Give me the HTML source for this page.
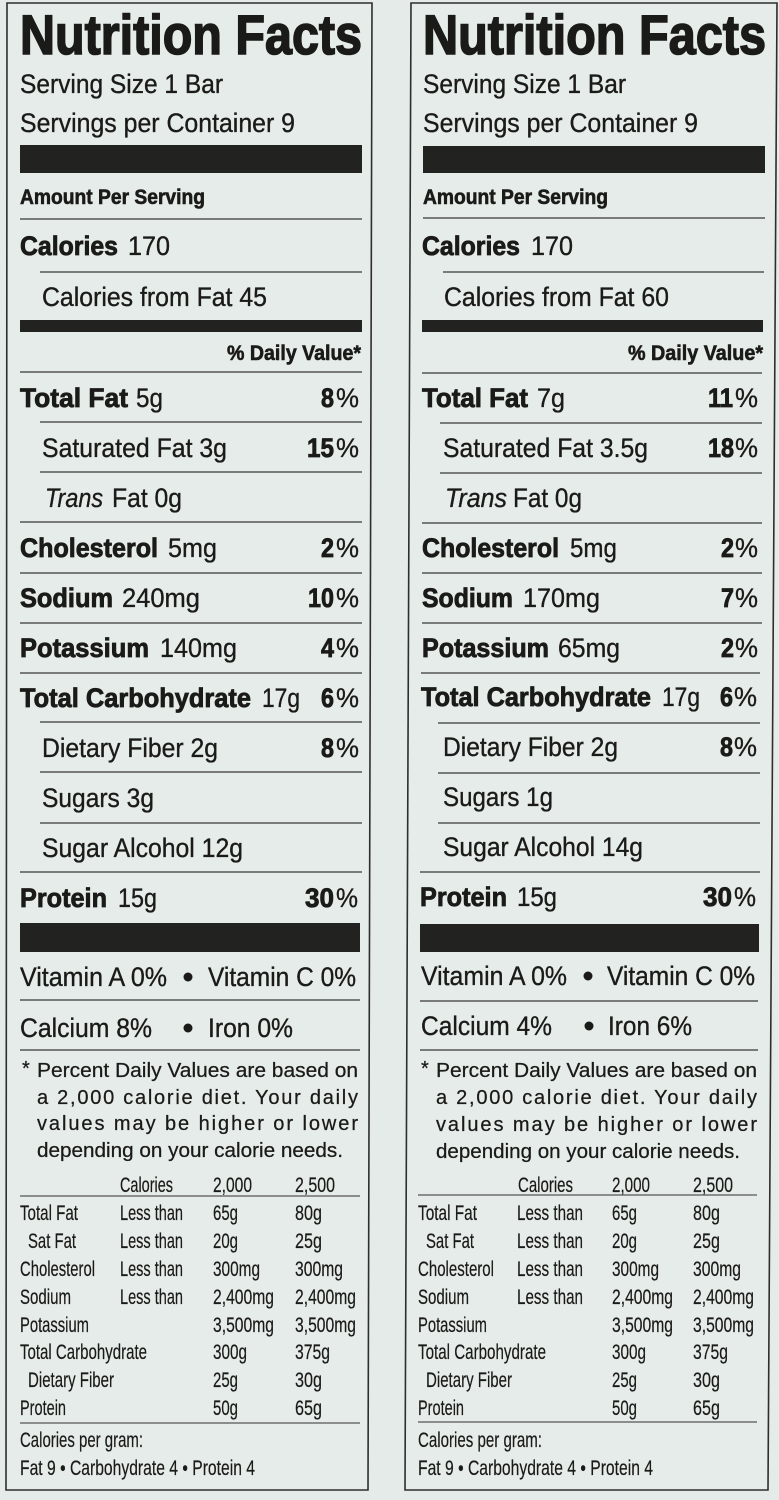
<!DOCTYPE html>
<html><head><meta charset="utf-8"><style>
html,body{margin:0;padding:0;background:#e5ebe8;}
svg{display:block;}
text{font-family:"Liberation Sans",Arial,sans-serif;fill:#1a1a18;}
.b{font-weight:bold;}
.t{font-weight:bold;font-size:56px;stroke:#1a1a18;stroke-width:1.6px;}
.m{font-size:27px;stroke:#1a1a18;stroke-width:0.35px;}
.mb{font-size:27px;font-weight:bold;stroke:#1a1a18;stroke-width:0.8px;}
.s{font-size:21px;font-weight:bold;stroke:#1a1a18;stroke-width:0.6px;}
.f{font-size:20px;stroke:#1a1a18;stroke-width:0.25px;}
.k{font-size:21px;stroke:#1a1a18;stroke-width:0.2px;}
.i{font-style:italic;}
</style></head><body>
<svg width="779" height="1500" viewBox="0 0 779 1500" xmlns="http://www.w3.org/2000/svg">
<rect x="0" y="0" width="779" height="1500" fill="#e5ebe8"/>
<polygon points="7,3 372,3 368,1490 6,1490" fill="#e6ece9" stroke="#2e2e2c" stroke-width="1.6"/>
<polygon points="411,3 777,3 768,1490 405,1490" fill="#e6ece9" stroke="#2e2e2c" stroke-width="1.6"/>

<g>
<!-- LEFT PANEL -->
<text class="t" x="20" y="54" textLength="342" lengthAdjust="spacingAndGlyphs">Nutrition Facts</text>
<text class="m" x="20" y="93" textLength="203" lengthAdjust="spacingAndGlyphs">Serving Size 1 Bar</text>
<text class="m" x="20" y="132" textLength="275" lengthAdjust="spacingAndGlyphs">Servings per Container 9</text>
<rect x="20" y="145" width="342" height="28" fill="#222220"/>
<text class="s" x="20" y="204" textLength="185" lengthAdjust="spacingAndGlyphs">Amount Per Serving</text>
<line x1="20" y1="219" x2="362" y2="219" stroke="#555" stroke-width="1.5"/>
<text class="mb" x="20" y="255" textLength="98" lengthAdjust="spacingAndGlyphs">Calories</text>
<text class="m" x="128" y="255" textLength="42" lengthAdjust="spacingAndGlyphs">170</text>
<line x1="40" y1="272" x2="362" y2="272" stroke="#555" stroke-width="1.5"/>
<text class="m" x="42" y="306" textLength="225" lengthAdjust="spacingAndGlyphs">Calories from Fat 45</text>
<rect x="20" y="320" width="342" height="12" fill="#222220"/>
<text class="s" x="227" y="360" textLength="134" lengthAdjust="spacingAndGlyphs">% Daily Value*</text>
<line x1="20" y1="372" x2="362" y2="372" stroke="#555" stroke-width="1.5"/>

<text class="mb" x="20" y="407" textLength="108" lengthAdjust="spacingAndGlyphs">Total Fat</text>
<text class="m" x="136" y="407" textLength="27" lengthAdjust="spacingAndGlyphs">5g</text>
<text class="mb" x="321" y="407" textLength="13" lengthAdjust="spacingAndGlyphs">8</text>
<text class="m" x="336" y="407" textLength="23" lengthAdjust="spacingAndGlyphs">%</text>
<line x1="40" y1="422" x2="362" y2="422" stroke="#555" stroke-width="1.5"/>

<text class="m" x="42" y="457" textLength="185" lengthAdjust="spacingAndGlyphs">Saturated Fat 3g</text>
<text class="mb" x="307" y="457" textLength="27" lengthAdjust="spacingAndGlyphs">15</text>
<text class="m" x="336" y="457" textLength="23" lengthAdjust="spacingAndGlyphs">%</text>
<line x1="40" y1="472" x2="362" y2="472" stroke="#555" stroke-width="1.5"/>

<text class="m i" x="45" y="507" textLength="58" lengthAdjust="spacingAndGlyphs">Trans</text>
<text class="m" x="112" y="507" textLength="70" lengthAdjust="spacingAndGlyphs">Fat 0g</text>
<line x1="20" y1="522" x2="362" y2="522" stroke="#555" stroke-width="1.5"/>

<text class="mb" x="20" y="557" textLength="138" lengthAdjust="spacingAndGlyphs">Cholesterol</text>
<text class="m" x="168" y="557" textLength="49" lengthAdjust="spacingAndGlyphs">5mg</text>
<text class="mb" x="321" y="557" textLength="13" lengthAdjust="spacingAndGlyphs">2</text>
<text class="m" x="336" y="557" textLength="23" lengthAdjust="spacingAndGlyphs">%</text>
<line x1="20" y1="573" x2="362" y2="573" stroke="#555" stroke-width="1.5"/>

<text class="mb" x="20" y="607" textLength="93" lengthAdjust="spacingAndGlyphs">Sodium</text>
<text class="m" x="122" y="607" textLength="78" lengthAdjust="spacingAndGlyphs">240mg</text>
<text class="mb" x="308" y="607" textLength="26" lengthAdjust="spacingAndGlyphs">10</text>
<text class="m" x="336" y="607" textLength="23" lengthAdjust="spacingAndGlyphs">%</text>
<line x1="20" y1="623" x2="362" y2="623" stroke="#555" stroke-width="1.5"/>

<text class="mb" x="20" y="657" textLength="129" lengthAdjust="spacingAndGlyphs">Potassium</text>
<text class="m" x="160" y="657" textLength="77" lengthAdjust="spacingAndGlyphs">140mg</text>
<text class="mb" x="321" y="657" textLength="13" lengthAdjust="spacingAndGlyphs">4</text>
<text class="m" x="336" y="657" textLength="23" lengthAdjust="spacingAndGlyphs">%</text>
<line x1="20" y1="673" x2="362" y2="673" stroke="#555" stroke-width="1.5"/>

<text class="mb" x="20" y="707" textLength="231" lengthAdjust="spacingAndGlyphs">Total Carbohydrate</text>
<text class="m" x="262" y="707" textLength="38" lengthAdjust="spacingAndGlyphs">17g</text>
<text class="mb" x="321" y="707" textLength="13" lengthAdjust="spacingAndGlyphs">6</text>
<text class="m" x="336" y="707" textLength="23" lengthAdjust="spacingAndGlyphs">%</text>
<line x1="40" y1="722" x2="362" y2="722" stroke="#555" stroke-width="1.5"/>

<text class="m" x="42" y="757" textLength="176" lengthAdjust="spacingAndGlyphs">Dietary Fiber 2g</text>
<text class="mb" x="321" y="757" textLength="13" lengthAdjust="spacingAndGlyphs">8</text>
<text class="m" x="336" y="757" textLength="23" lengthAdjust="spacingAndGlyphs">%</text>
<line x1="40" y1="772" x2="362" y2="772" stroke="#555" stroke-width="1.5"/>

<text class="m" x="42" y="807" textLength="112" lengthAdjust="spacingAndGlyphs">Sugars 3g</text>
<line x1="40" y1="823" x2="362" y2="823" stroke="#555" stroke-width="1.5"/>

<text class="m" x="42" y="857" textLength="201" lengthAdjust="spacingAndGlyphs">Sugar Alcohol 12g</text>
<line x1="20" y1="872" x2="362" y2="872" stroke="#555" stroke-width="1.5"/>

<text class="mb" x="20" y="907" textLength="87" lengthAdjust="spacingAndGlyphs">Protein</text>
<text class="m" x="118" y="907" textLength="39" lengthAdjust="spacingAndGlyphs">15g</text>
<text class="mb" x="305" y="907" textLength="29" lengthAdjust="spacingAndGlyphs">30</text>
<text class="m" x="336" y="907" textLength="22" lengthAdjust="spacingAndGlyphs">%</text>

<rect x="20" y="923" width="340" height="29" fill="#222220"/>
<text class="m" x="20" y="986" textLength="147" lengthAdjust="spacingAndGlyphs">Vitamin A 0%</text>
<circle cx="188" cy="977" r="4.5" fill="#1a1a18"/>
<text class="m" x="208" y="986" textLength="148" lengthAdjust="spacingAndGlyphs">Vitamin C 0%</text>
<line x1="20" y1="1000" x2="360" y2="1000" stroke="#555" stroke-width="1.5"/>
<text class="m" x="20" y="1037" textLength="132" lengthAdjust="spacingAndGlyphs">Calcium 8%</text>
<circle cx="188" cy="1028" r="4.5" fill="#1a1a18"/>
<text class="m" x="208" y="1037" textLength="85" lengthAdjust="spacingAndGlyphs">Iron 0%</text>
<line x1="20" y1="1050" x2="360" y2="1050" stroke="#555" stroke-width="1.5"/>

<text class="f" x="22" y="1075" font-size="16">*</text>
<text class="f" x="37" y="1077" textLength="321" lengthAdjust="spacingAndGlyphs">Percent Daily Values are based on</text>
<text class="f" x="37" y="1104" textLength="321" lengthAdjust="spacing">a 2,000 calorie diet. Your daily</text>
<text class="f" x="37" y="1130" textLength="321" lengthAdjust="spacing">values may be higher or lower</text>
<text class="f" x="37" y="1157" textLength="306" lengthAdjust="spacingAndGlyphs">depending on your calorie needs.</text>

<text class="k" x="120" y="1192" textLength="53" lengthAdjust="spacingAndGlyphs">Calories</text>
<text class="k" x="213" y="1192" textLength="39" lengthAdjust="spacingAndGlyphs">2,000</text>
<text class="k" x="295" y="1192" textLength="40" lengthAdjust="spacingAndGlyphs">2,500</text>
<line x1="20" y1="1196" x2="360" y2="1196" stroke="#555" stroke-width="1.3"/>

<text class="k" x="20" y="1220" textLength="58" lengthAdjust="spacingAndGlyphs">Total Fat</text>
<text class="k" x="120" y="1220" textLength="63" lengthAdjust="spacingAndGlyphs">Less than</text>
<text class="k" x="213" y="1220" textLength="25" lengthAdjust="spacingAndGlyphs">65g</text>
<text class="k" x="295" y="1220" textLength="27" lengthAdjust="spacingAndGlyphs">80g</text>

<text class="k" x="28" y="1248" textLength="48" lengthAdjust="spacingAndGlyphs">Sat Fat</text>
<text class="k" x="120" y="1248" textLength="63" lengthAdjust="spacingAndGlyphs">Less than</text>
<text class="k" x="213" y="1248" textLength="25" lengthAdjust="spacingAndGlyphs">20g</text>
<text class="k" x="295" y="1248" textLength="27" lengthAdjust="spacingAndGlyphs">25g</text>

<text class="k" x="20" y="1276" textLength="75" lengthAdjust="spacingAndGlyphs">Cholesterol</text>
<text class="k" x="120" y="1276" textLength="63" lengthAdjust="spacingAndGlyphs">Less than</text>
<text class="k" x="213" y="1276" textLength="47" lengthAdjust="spacingAndGlyphs">300mg</text>
<text class="k" x="295" y="1276" textLength="48" lengthAdjust="spacingAndGlyphs">300mg</text>

<text class="k" x="20" y="1304" textLength="51" lengthAdjust="spacingAndGlyphs">Sodium</text>
<text class="k" x="120" y="1304" textLength="63" lengthAdjust="spacingAndGlyphs">Less than</text>
<text class="k" x="213" y="1304" textLength="61" lengthAdjust="spacingAndGlyphs">2,400mg</text>
<text class="k" x="295" y="1304" textLength="61" lengthAdjust="spacingAndGlyphs">2,400mg</text>

<text class="k" x="20" y="1332" textLength="69" lengthAdjust="spacingAndGlyphs">Potassium</text>
<text class="k" x="213" y="1332" textLength="61" lengthAdjust="spacingAndGlyphs">3,500mg</text>
<text class="k" x="295" y="1332" textLength="61" lengthAdjust="spacingAndGlyphs">3,500mg</text>

<text class="k" x="20" y="1359" textLength="127" lengthAdjust="spacingAndGlyphs">Total Carbohydrate</text>
<text class="k" x="213" y="1359" textLength="34" lengthAdjust="spacingAndGlyphs">300g</text>
<text class="k" x="295" y="1359" textLength="35" lengthAdjust="spacingAndGlyphs">375g</text>

<text class="k" x="28" y="1387" textLength="86" lengthAdjust="spacingAndGlyphs">Dietary Fiber</text>
<text class="k" x="213" y="1387" textLength="25" lengthAdjust="spacingAndGlyphs">25g</text>
<text class="k" x="295" y="1387" textLength="27" lengthAdjust="spacingAndGlyphs">30g</text>

<text class="k" x="20" y="1415" textLength="46" lengthAdjust="spacingAndGlyphs">Protein</text>
<text class="k" x="213" y="1415" textLength="25" lengthAdjust="spacingAndGlyphs">50g</text>
<text class="k" x="295" y="1415" textLength="27" lengthAdjust="spacingAndGlyphs">65g</text>
<line x1="20" y1="1423" x2="360" y2="1423" stroke="#555" stroke-width="1.3"/>

<text class="k" x="20" y="1447" textLength="123" lengthAdjust="spacingAndGlyphs">Calories per gram:</text>
<text class="k" x="20" y="1475" textLength="235" lengthAdjust="spacingAndGlyphs">Fat 9 • Carbohydrate 4 • Protein 4</text>

<!-- RIGHT PANEL -->
<text class="t" x="423" y="54" textLength="343" lengthAdjust="spacingAndGlyphs">Nutrition Facts</text>
<text class="m" x="423" y="93" textLength="203" lengthAdjust="spacingAndGlyphs">Serving Size 1 Bar</text>
<text class="m" x="423" y="132" textLength="275" lengthAdjust="spacingAndGlyphs">Servings per Container 9</text>
<rect x="423" y="146" width="342" height="27" fill="#222220"/>
<text class="s" x="423" y="204" textLength="185" lengthAdjust="spacingAndGlyphs">Amount Per Serving</text>
<line x1="423" y1="218" x2="765" y2="218" stroke="#555" stroke-width="1.5"/>
<text class="mb" x="422" y="255" textLength="98" lengthAdjust="spacingAndGlyphs">Calories</text>
<text class="m" x="531" y="255" textLength="42" lengthAdjust="spacingAndGlyphs">170</text>
<line x1="443" y1="272" x2="764" y2="272" stroke="#555" stroke-width="1.5"/>
<text class="m" x="444" y="306" textLength="225" lengthAdjust="spacingAndGlyphs">Calories from Fat 60</text>
<rect x="422" y="320" width="341" height="12" fill="#222220"/>
<text class="s" x="628" y="360" textLength="135" lengthAdjust="spacingAndGlyphs">% Daily Value*</text>
<line x1="422" y1="373" x2="762" y2="373" stroke="#555" stroke-width="1.5"/>

<text class="mb" x="422" y="407" textLength="106" lengthAdjust="spacingAndGlyphs">Total Fat</text>
<text class="m" x="537" y="407" textLength="28" lengthAdjust="spacingAndGlyphs">7g</text>
<text class="mb" x="708" y="407" textLength="25" lengthAdjust="spacingAndGlyphs">11</text>
<text class="m" x="735" y="407" textLength="23" lengthAdjust="spacingAndGlyphs">%</text>
<line x1="440" y1="423" x2="762" y2="423" stroke="#555" stroke-width="1.5"/>

<text class="m" x="443" y="457" textLength="205" lengthAdjust="spacingAndGlyphs">Saturated Fat 3.5g</text>
<text class="mb" x="708" y="457" textLength="26" lengthAdjust="spacingAndGlyphs">18</text>
<text class="m" x="735" y="457" textLength="23" lengthAdjust="spacingAndGlyphs">%</text>
<line x1="440" y1="473" x2="762" y2="473" stroke="#555" stroke-width="1.5"/>

<text class="m i" x="445" y="507" textLength="62" lengthAdjust="spacingAndGlyphs">Trans</text>
<text class="m" x="513" y="507" textLength="69" lengthAdjust="spacingAndGlyphs">Fat 0g</text>
<line x1="422" y1="523" x2="762" y2="523" stroke="#555" stroke-width="1.5"/>

<text class="mb" x="422" y="557" textLength="137" lengthAdjust="spacingAndGlyphs">Cholesterol</text>
<text class="m" x="570" y="557" textLength="47" lengthAdjust="spacingAndGlyphs">5mg</text>
<text class="mb" x="721" y="557" textLength="13" lengthAdjust="spacingAndGlyphs">2</text>
<text class="m" x="735" y="557" textLength="23" lengthAdjust="spacingAndGlyphs">%</text>
<line x1="422" y1="573" x2="762" y2="573" stroke="#555" stroke-width="1.5"/>

<text class="mb" x="422" y="607" textLength="91" lengthAdjust="spacingAndGlyphs">Sodium</text>
<text class="m" x="523" y="607" textLength="77" lengthAdjust="spacingAndGlyphs">170mg</text>
<text class="mb" x="721" y="607" textLength="13" lengthAdjust="spacingAndGlyphs">7</text>
<text class="m" x="735" y="607" textLength="23" lengthAdjust="spacingAndGlyphs">%</text>
<line x1="422" y1="623" x2="762" y2="623" stroke="#555" stroke-width="1.5"/>

<text class="mb" x="422" y="657" textLength="127" lengthAdjust="spacingAndGlyphs">Potassium</text>
<text class="m" x="558" y="657" textLength="62" lengthAdjust="spacingAndGlyphs">65mg</text>
<text class="mb" x="721" y="657" textLength="13" lengthAdjust="spacingAndGlyphs">2</text>
<text class="m" x="735" y="657" textLength="23" lengthAdjust="spacingAndGlyphs">%</text>
<line x1="421" y1="673" x2="760" y2="673" stroke="#555" stroke-width="1.5"/>

<text class="mb" x="421" y="706" textLength="230" lengthAdjust="spacingAndGlyphs">Total Carbohydrate</text>
<text class="m" x="662" y="706" textLength="38" lengthAdjust="spacingAndGlyphs">17g</text>
<text class="mb" x="720" y="706" textLength="13" lengthAdjust="spacingAndGlyphs">6</text>
<text class="m" x="734" y="706" textLength="23" lengthAdjust="spacingAndGlyphs">%</text>
<line x1="438" y1="723" x2="760" y2="723" stroke="#555" stroke-width="1.5"/>

<text class="m" x="443" y="756" textLength="175" lengthAdjust="spacingAndGlyphs">Dietary Fiber 2g</text>
<text class="mb" x="720" y="756" textLength="13" lengthAdjust="spacingAndGlyphs">8</text>
<text class="m" x="734" y="756" textLength="23" lengthAdjust="spacingAndGlyphs">%</text>
<line x1="438" y1="773" x2="760" y2="773" stroke="#555" stroke-width="1.5"/>

<text class="m" x="443" y="806" textLength="110" lengthAdjust="spacingAndGlyphs">Sugars 1g</text>
<line x1="438" y1="823" x2="760" y2="823" stroke="#555" stroke-width="1.5"/>

<text class="m" x="443" y="856" textLength="200" lengthAdjust="spacingAndGlyphs">Sugar Alcohol 14g</text>
<line x1="420" y1="872" x2="760" y2="872" stroke="#555" stroke-width="1.5"/>

<text class="mb" x="420" y="906" textLength="87" lengthAdjust="spacingAndGlyphs">Protein</text>
<text class="m" x="517" y="906" textLength="40" lengthAdjust="spacingAndGlyphs">15g</text>
<text class="mb" x="703" y="906" textLength="29" lengthAdjust="spacingAndGlyphs">30</text>
<text class="m" x="734" y="906" textLength="22" lengthAdjust="spacingAndGlyphs">%</text>

<rect x="420" y="924" width="339" height="28" fill="#222220"/>
<text class="m" x="421" y="985" textLength="146" lengthAdjust="spacingAndGlyphs">Vitamin A 0%</text>
<circle cx="588" cy="976" r="4.5" fill="#1a1a18"/>
<text class="m" x="607" y="985" textLength="148" lengthAdjust="spacingAndGlyphs">Vitamin C 0%</text>
<line x1="420" y1="1001" x2="758" y2="1001" stroke="#555" stroke-width="1.5"/>
<text class="m" x="421" y="1035" textLength="131" lengthAdjust="spacingAndGlyphs">Calcium 4%</text>
<circle cx="589" cy="1026" r="4.5" fill="#1a1a18"/>
<text class="m" x="608" y="1035" textLength="84" lengthAdjust="spacingAndGlyphs">Iron 6%</text>
<line x1="420" y1="1050" x2="758" y2="1050" stroke="#555" stroke-width="1.5"/>

<text class="f" x="421" y="1075" font-size="16">*</text>
<text class="f" x="436" y="1077" textLength="321" lengthAdjust="spacingAndGlyphs">Percent Daily Values are based on</text>
<text class="f" x="436" y="1104" textLength="321" lengthAdjust="spacing">a 2,000 calorie diet. Your daily</text>
<text class="f" x="436" y="1131" textLength="321" lengthAdjust="spacing">values may be higher or lower</text>
<text class="f" x="436" y="1158" textLength="304" lengthAdjust="spacingAndGlyphs">depending on your calorie needs.</text>

<text class="k" x="518" y="1192" textLength="55" lengthAdjust="spacingAndGlyphs">Calories</text>
<text class="k" x="612" y="1192" textLength="38" lengthAdjust="spacingAndGlyphs">2,000</text>
<text class="k" x="693" y="1192" textLength="40" lengthAdjust="spacingAndGlyphs">2,500</text>
<line x1="418" y1="1195" x2="757" y2="1195" stroke="#555" stroke-width="1.3"/>

<text class="k" x="418" y="1220" textLength="59" lengthAdjust="spacingAndGlyphs">Total Fat</text>
<text class="k" x="517" y="1220" textLength="66" lengthAdjust="spacingAndGlyphs">Less than</text>
<text class="k" x="612" y="1220" textLength="25" lengthAdjust="spacingAndGlyphs">65g</text>
<text class="k" x="693" y="1220" textLength="27" lengthAdjust="spacingAndGlyphs">80g</text>

<text class="k" x="426" y="1248" textLength="48" lengthAdjust="spacingAndGlyphs">Sat Fat</text>
<text class="k" x="517" y="1248" textLength="66" lengthAdjust="spacingAndGlyphs">Less than</text>
<text class="k" x="612" y="1248" textLength="25" lengthAdjust="spacingAndGlyphs">20g</text>
<text class="k" x="693" y="1248" textLength="27" lengthAdjust="spacingAndGlyphs">25g</text>

<text class="k" x="418" y="1276" textLength="76" lengthAdjust="spacingAndGlyphs">Cholesterol</text>
<text class="k" x="517" y="1276" textLength="66" lengthAdjust="spacingAndGlyphs">Less than</text>
<text class="k" x="612" y="1276" textLength="47" lengthAdjust="spacingAndGlyphs">300mg</text>
<text class="k" x="693" y="1276" textLength="48" lengthAdjust="spacingAndGlyphs">300mg</text>

<text class="k" x="418" y="1304" textLength="51" lengthAdjust="spacingAndGlyphs">Sodium</text>
<text class="k" x="517" y="1304" textLength="66" lengthAdjust="spacingAndGlyphs">Less than</text>
<text class="k" x="612" y="1304" textLength="61" lengthAdjust="spacingAndGlyphs">2,400mg</text>
<text class="k" x="693" y="1304" textLength="61" lengthAdjust="spacingAndGlyphs">2,400mg</text>

<text class="k" x="418" y="1332" textLength="69" lengthAdjust="spacingAndGlyphs">Potassium</text>
<text class="k" x="612" y="1332" textLength="61" lengthAdjust="spacingAndGlyphs">3,500mg</text>
<text class="k" x="693" y="1332" textLength="61" lengthAdjust="spacingAndGlyphs">3,500mg</text>

<text class="k" x="418" y="1359" textLength="128" lengthAdjust="spacingAndGlyphs">Total Carbohydrate</text>
<text class="k" x="612" y="1359" textLength="34" lengthAdjust="spacingAndGlyphs">300g</text>
<text class="k" x="693" y="1359" textLength="35" lengthAdjust="spacingAndGlyphs">375g</text>

<text class="k" x="426" y="1387" textLength="86" lengthAdjust="spacingAndGlyphs">Dietary Fiber</text>
<text class="k" x="612" y="1387" textLength="25" lengthAdjust="spacingAndGlyphs">25g</text>
<text class="k" x="693" y="1387" textLength="27" lengthAdjust="spacingAndGlyphs">30g</text>

<text class="k" x="418" y="1415" textLength="46" lengthAdjust="spacingAndGlyphs">Protein</text>
<text class="k" x="612" y="1415" textLength="25" lengthAdjust="spacingAndGlyphs">50g</text>
<text class="k" x="693" y="1415" textLength="27" lengthAdjust="spacingAndGlyphs">65g</text>
<line x1="418" y1="1422" x2="757" y2="1422" stroke="#555" stroke-width="1.3"/>

<text class="k" x="418" y="1447" textLength="124" lengthAdjust="spacingAndGlyphs">Calories per gram:</text>
<text class="k" x="418" y="1475" textLength="235" lengthAdjust="spacingAndGlyphs">Fat 9 • Carbohydrate 4 • Protein 4</text>
</g>
</svg>
</body></html>
